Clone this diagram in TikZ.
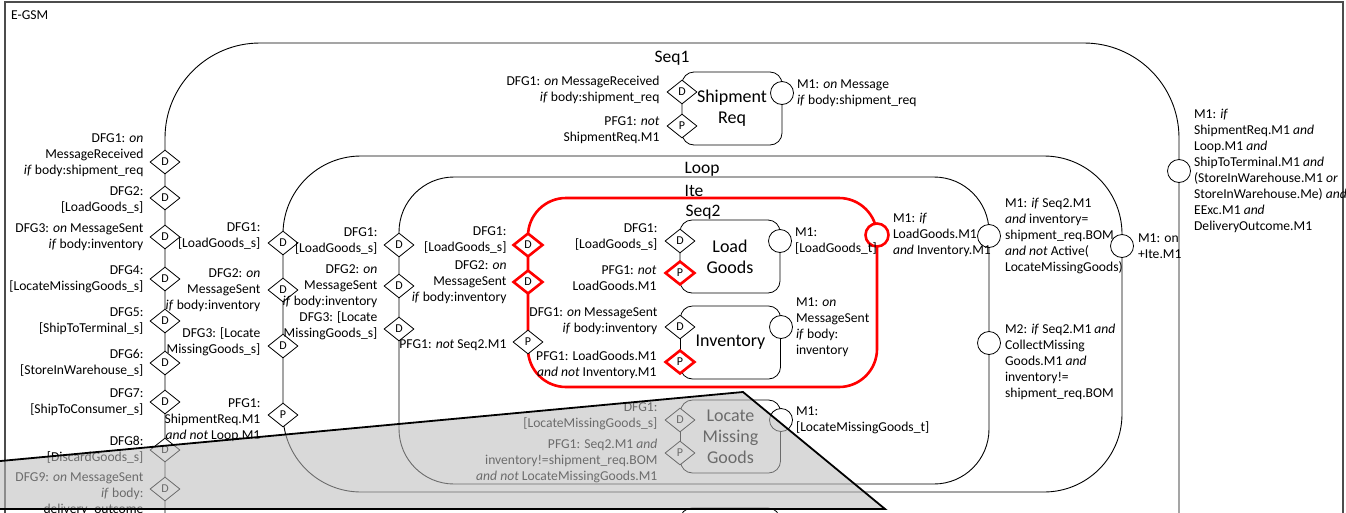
\documentclass[tikz,border=0pt]{standalone}
\usepackage{fontspec}
\setmainfont{Carlito}
\usetikzlibrary{positioning,shapes.geometric}

\begin{document}
\begin{tikzpicture}[x=1pt, y=-1pt,
  every node/.style={font=\fontsize{13.6}{16}\selectfont, inner sep=0pt},
  lbl/.style={align=right},
  lblr/.style={align=left},
  gate/.style={draw, diamond, fill=white, minimum width=30pt, minimum height=24pt, line width=0.8pt, font=\fontsize{12}{12}\selectfont},
  hotgate/.style={gate, draw=red, line width=2.6pt},
  mst/.style={draw, circle, fill=white, minimum size=23pt, line width=0.8pt},
  hotmst/.style={mst, draw=red, line width=2.6pt},
  stage/.style={draw, rounded corners=12pt, minimum width=100pt, minimum height=73pt, line width=0.8pt, align=center, font=\fontsize{18}{21}\selectfont},
  cont/.style={draw, line width=0.9pt},
  ctitle/.style={font=\fontsize{17.5}{20}\selectfont}]
\useasboundingbox (0,0) rectangle (1346,512);
\clip (0,0) rectangle (1346,512);

% frame
\draw[line width=1.3pt, black!70] (5,530) -- (5,2) -- (1343,2) -- (1343,530);
\node (egsm) [anchor=west] at (11,15) {E-GSM};

% nested containers
\draw[cont, rounded corners=95pt] (165,43) rectangle (1179,640);
\draw[cont, rounded corners=78pt] (283,156) rectangle (1122,492);
\draw[cont, rounded corners=55pt] (399,177) rectangle (989,484);
\draw[draw=red, line width=2.6pt, rounded corners=38pt] (528,198) rectangle (877,387);
\node (seq1t) [ctitle] at (672,58) {Seq1};
\node (loopt) [ctitle] at (702,169) {Loop};
\node (itet) [ctitle] at (694,191) {Ite};
\node (seq2t) [ctitle] at (703,212) {Seq2};

% stages
\node (shipreq) [stage] at (732,108.5) {Shipment\\Req};
\node (loadgoods) [stage] at (730,256.5) {Load\\Goods};
\node (inventory) [stage] at (730.5,342.5) {Inventory};
\node (locate) [stage] at (730.5,436.5) {Locate\\Missing\\Goods};
\draw[line width=0.8pt, rounded corners=12pt] (680,590) rectangle (780,508);

% Seq1 guards
\node (s1d1) [gate] at (165,162) {D};
\node (s1d2) [gate] at (165,198) {D};
\node (s1d3) [gate] at (165,237) {D};
\node (s1d4) [gate] at (165,279) {D};
\node (s1d5) [gate] at (165,321) {D};
\node (s1d6) [gate] at (165,363) {D};
\node (s1d7) [gate] at (165,402) {D};
\node (s1d8) [gate] at (165,450) {D};
\node (s1d9) [gate] at (165,489) {D};
\node (s1d1l) [lbl, left=6pt of s1d1, yshift=7pt] {DFG1: \textit{on}\\MessageReceived\\\textit{if} body:shipment\_req};
\node (s1d2l) [lbl, left=6pt of s1d2, yshift=-2pt] {DFG2:\\{}[LoadGoods\_s]};
\node (s1d3l) [lbl, left=6pt of s1d3] {DFG3: \textit{on} MessageSent\\\textit{if} body:inventory};
\node (s1d4l) [lbl, left=6pt of s1d4] {DFG4:\\{}[LocateMissingGoods\_s]};
\node (s1d5l) [lbl, left=6pt of s1d5] {DFG5:\\{}[ShipToTerminal\_s]};
\node (s1d6l) [lbl, left=6pt of s1d6] {DFG6:\\{}[StoreInWarehouse\_s]};
\node (s1d7l) [lbl, left=6pt of s1d7] {DFG7:\\{}[ShipToConsumer\_s]};
\node (s1d8l) [lbl, left=6pt of s1d8] {DFG8:\\{}[DiscardGoods\_s]};
\node (s1d9l) [lbl, left=6pt of s1d9, yshift=-5pt] {DFG9: \textit{on} MessageSent\\\textit{if} body:\\delivery\_outcome};
\node (s1m) [mst] at (1179,171) {};
\node (s1ml) [lblr, right=3pt of s1m] {M1: \textit{if}\\ShipmentReq.M1 \textit{and}\\Loop.M1 \textit{and}\\ShipToTerminal.M1 \textit{and}\\(StoreInWarehouse.M1 \textit{or}\\StoreInWarehouse.Me) \textit{and}\\EExc.M1 \textit{and}\\DeliveryOutcome.M1};

% Loop guards
\node (lpd1) [gate] at (283,243) {D};
\node (lpd2) [gate] at (283,290) {D};
\node (lpd3) [gate] at (283,346) {D};
\node (lpp1) [gate] at (283,415) {P};
\node (lpd1l) [lbl, left=7pt of lpd1, yshift=7pt] {DFG1:\\{}[LoadGoods\_s]};
\node (lpd2l) [lbl, left=7pt of lpd2] {DFG2: \textit{on}\\MessageSent\\\textit{if} body:inventory};
\node (lpd3l) [lbl, left=7pt of lpd3, yshift=4pt] {DFG3: [Locate\\MissingGoods\_s]};
\node (lpp1l) [lbl, left=7pt of lpp1, yshift=-5pt] {PFG1:\\ShipmentReq.M1\\\textit{and not} Loop.M1};
\node (lpm) [mst] at (1122,246) {};
\node (lpml) [lblr, right=4pt of lpm] {M1: on\\+Ite.M1};

% Ite guards
\node (itd1) [gate] at (399,245) {D};
\node (itd2) [gate] at (399,286) {D};
\node (itd3) [gate] at (399,329) {D};
\node (itd1l) [lbl, left=6pt of itd1, yshift=4pt] {DFG1:\\{}[LoadGoods\_s]};
\node (itd2l) [lbl, left=6pt of itd2] {DFG2: \textit{on}\\MessageSent\\\textit{if} body:inventory};
\node (itd3l) [lbl, left=6pt of itd3, yshift=3pt] {DFG3: [Locate\\MissingGoods\_s]};
\node (itm1) [mst] at (989,236) {};
\node (itm2) [mst] at (989,343) {};
\node (itm1l) [lblr, right=4pt of itm1] {M1: \textit{if} Seq2.M1\\\textit{and} inventory=\\shipment\_req.BOM\\\textit{and not} Active(\\LocateMissingGoods)};
\node (itm2l) [lblr, right=4pt of itm2, yshift=-19pt] {M2: \textit{if} Seq2.M1 \textit{and}\\CollectMissing\\Goods.M1 \textit{and}\\inventory!=\\shipment\_req.BOM};

% Seq2 guards
\node (sqd1) [hotgate] at (528,245) {D};
\node (sqd2) [hotgate] at (528,282) {D};
\node (sqp1) [gate] at (528,342) {P};
\node (sqd1l) [lbl, left=5pt of sqd1, yshift=5pt] {DFG1:\\{}[LoadGoods\_s]};
\node (sqd2l) [lbl, left=5pt of sqd2] {DFG2: \textit{on}\\MessageSent\\\textit{if} body:inventory};
\node (sqp1l) [lbl, left=6pt of sqp1, yshift=-3pt] {PFG1: \textit{not} Seq2.M1};
\node (sqm) [hotmst] at (877,235) {};
\node (sqml) [lblr, right=3pt of sqm] {M1: \textit{if}\\LoadGoods.M1\\\textit{and} Inventory.M1};

% ShipmentReq
\node (srd) [gate] at (682,92) {D};
\node (srp) [gate] at (682,126) {P};
\node (srdl) [lbl, left=7pt of srd, yshift=2pt] {DFG1: \textit{on} MessageReceived\\\textit{if} body:shipment\_req};
\node (srpl) [lbl, left=7pt of srp, yshift=-4pt] {PFG1: \textit{not}\\ShipmentReq.M1};
\node (srm) [mst] at (782,93) {};
\node (srml) [lblr, right=3pt of srm] {M1: \textit{on} Message\\\textit{if} body:shipment\_req};

% LoadGoods
\node (lgd) [gate] at (680,241) {D};
\node (lgp) [hotgate] at (680,273) {P};
\node (lgdl) [lbl, left=7pt of lgd, yshift=4pt] {DFG1:\\{}[LoadGoods\_s]};
\node (lgpl) [lbl, left=7pt of lgp, yshift=-5pt] {PFG1: \textit{not}\\LoadGoods.M1};
\node (lgm) [mst] at (780,241) {};
\node (lgml) [lblr, right=3pt of lgm] {M1:\\{}[LoadGoods\_t]};

% Inventory
\node (ivd) [gate] at (680,327) {D};
\node (ivp) [hotgate] at (680,362) {P};
\node (ivdl) [lbl, left=7pt of ivd, yshift=6pt] {DFG1: \textit{on} MessageSent\\\textit{if} body:inventory};
\node (ivpl) [lbl, left=7pt of ivp, yshift=-3pt] {PFG1: LoadGoods.M1\\\textit{and not} Inventory.M1};
\node (ivm) [mst] at (781,327) {};
\node (ivml) [lblr, right=3pt of ivm] {M1: \textit{on}\\MessageSent\\\textit{if} body:\\inventory};

% LocateMissingGoods
\node (lmd) [gate] at (680,420) {D};
\node (lmp) [gate] at (680,453) {P};
\node (lmdl) [lbl, left=7pt of lmd, yshift=4pt] {DFG1:\\{}[LocateMissingGoods\_s]};
\node (lmpl) [lbl, left=7pt of lmp, yshift=-8pt] {PFG1: Seq2.M1 \textit{and}\\inventory!=shipment\_req.BOM\\\textit{and not} LocateMissingGoods.M1};
\node (lmm) [mst] at (781,420) {};
\node (lmml) [lblr, right=3pt of lmm] {M1:\\{}[LocateMissingGoods\_t]};

% shaded cut
\fill[black!26, fill opacity=0.57] (-5,461.5) -- (743,392) -- (885,509) -- (-5,509) -- cycle;
\draw[line width=1.8pt] (-5,461.5) -- (743,392) -- (885,509) -- (-5,509);
\end{tikzpicture}
\end{document}
